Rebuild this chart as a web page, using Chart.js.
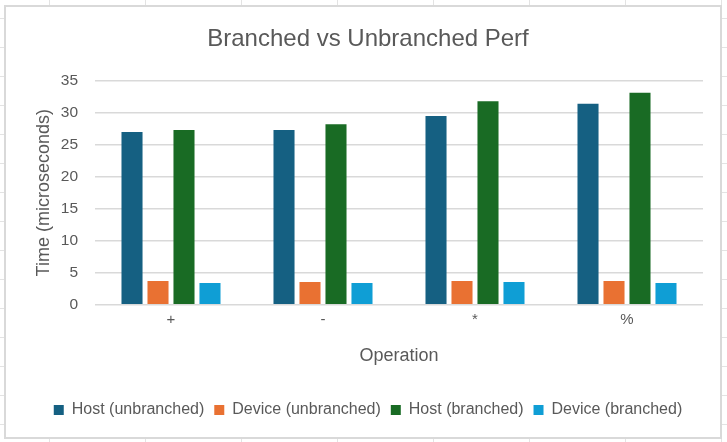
<!DOCTYPE html>
<html>
<head>
<meta charset="utf-8">
<script src="https://cdn.jsdelivr.net/npm/chart.js@4/dist/chart.umd.min.js"></script>
<style>
  html, body { margin: 0; padding: 0; }
  body {
    width: 727px; height: 442px; overflow: hidden; position: relative;
    background-color: #ffffff;
    background-image:
      repeating-linear-gradient(to right, transparent 0, transparent 49px, #e3e3e3 49px, #e3e3e3 50px, transparent 50px, transparent 96px),
      repeating-linear-gradient(to bottom, transparent 0, transparent 18px, #e3e3e3 18px, #e3e3e3 19px, transparent 19px, transparent 29px);
  }
  #box {
    position: absolute; left: 4px; top: 5px; width: 714px; height: 430px;
    border: 2px solid #d9d9d9; background: #ffffff;
  }
  canvas { display: block; }
</style>
</head>
<body>
<div id="box"><canvas id="c" width="714" height="430"></canvas></div>
<script>
const categories = ['+', '-', '*', '%'];
const hostUnbranched = [27.0, 27.3, 29.5, 31.4];
const deviceUnbranched = [3.7, 3.55, 3.7, 3.7];
const hostBranched = [27.3, 28.2, 31.8, 33.1];
const deviceBranched = [3.4, 3.4, 3.55, 3.4];
const seriesNames = ['Host (unbranched)', 'Device (unbranched)', 'Host (branched)', 'Device (branched)'];
const seriesColors = ['#156082', '#E97132', '#196B24', '#0F9ED5'];

const FONT = "'Liberation Sans', Arial, sans-serif";
const TXT = '#595959';
const values = [hostUnbranched, deviceUnbranched, hostBranched, deviceBranched];

new Chart(document.getElementById('c'), {
  type: 'bar',
  data: {
    labels: categories,
    datasets: values.map((v, i) => ({
      label: seriesNames[i],
      data: v,
      backgroundColor: seriesColors[i],
      borderWidth: 0,
      categoryPercentage: 0.684,
      barPercentage: 0.81
    }))
  },
  options: {
    responsive: false,
    animation: false,
    layout: { padding: { left: 27, right: 17, top: 0, bottom: 9 } },
    plugins: {
      title: {
        display: true,
        text: 'Branched vs Unbranched Perf',
        color: TXT,
        font: { family: FONT, size: 24, weight: 'normal' },
        padding: { top: 17.6, bottom: 27.3 }
      },
      legend: {
        position: 'bottom',
        labels: {
          color: TXT,
          font: { family: FONT, size: 16 },
          boxWidth: 10, boxHeight: 10,
          padding: 10
        }
      },
      tooltip: { enabled: false }
    },
    scales: {
      x: {
        grid: { display: false, drawTicks: false },
        border: { display: false },
        ticks: { color: TXT, font: { family: FONT, size: 15 }, padding: 6 },
        title: {
          display: true, text: 'Operation', color: TXT,
          font: { family: FONT, size: 18 }, padding: { top: 0, bottom: 25 }
        },
        afterFit: (s) => { s.height = 87.3; }
      },
      y: {
        min: 0, max: 35,
        grid: { color: '#d9d9d9', lineWidth: 1.5, drawTicks: false },
        border: { display: false },
        ticks: { stepSize: 5, color: TXT, font: { family: FONT, size: 15.5 }, padding: 17 },
        title: {
          display: true, text: 'Time (microseconds)', color: TXT,
          font: { family: FONT, size: 18 }, padding: 0
        },
        afterFit: (s) => { s.width = 62; }
      }
    }
  }
});
</script>
</body>
</html>
